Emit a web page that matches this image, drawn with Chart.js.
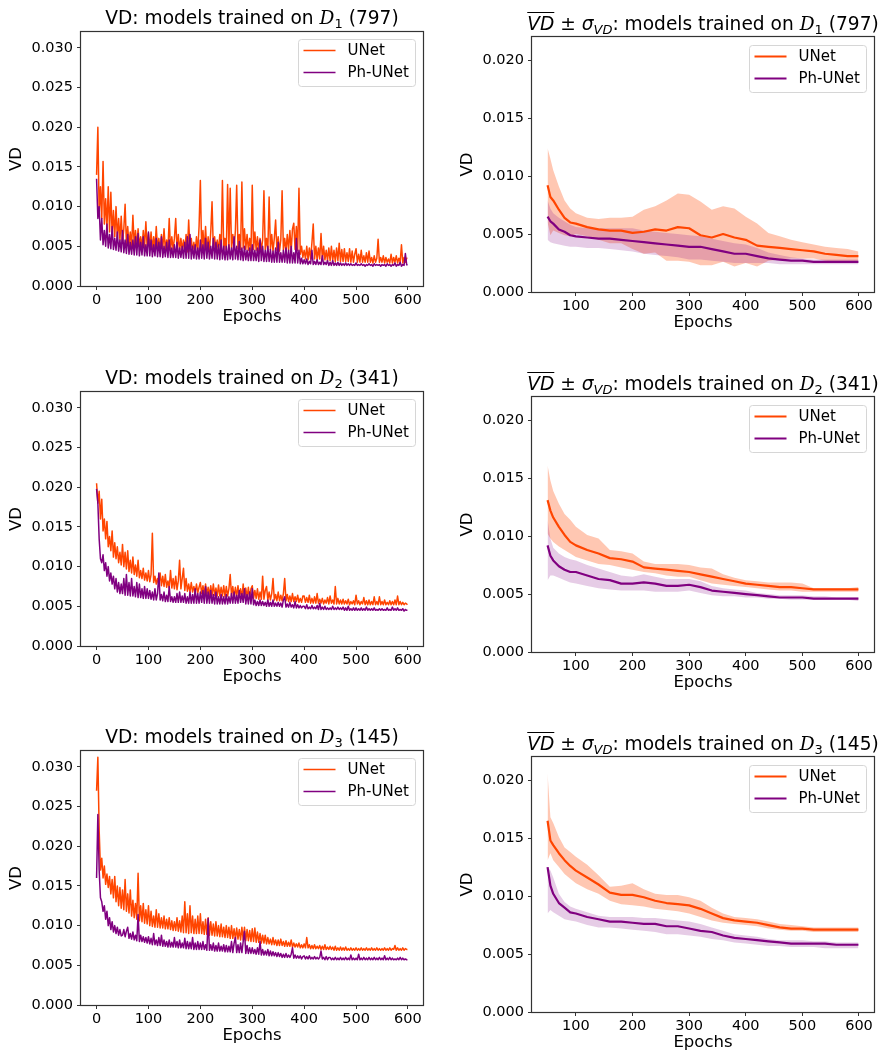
<!DOCTYPE html>
<html>
<head>
<meta charset="utf-8">
<script src="https://cdn.jsdelivr.net/npm/chart.js@4.4.0/dist/chart.umd.min.js"></script>
<style>
  body { margin: 0; background: #fff; width: 883px; height: 1052px; position: relative; overflow: hidden; font-family: "DejaVu Sans", sans-serif; }
  canvas { position: absolute; }
  .title { position: absolute; font-size: 18.6px; line-height: 18.6px; white-space: nowrap; transform: translateX(-50%); color: #000; }
  .cal { font-family: "DejaVu Serif", serif; font-style: italic; }
  .sub { font-size: 0.7em; position: relative; top: 0.3em; }
  .ovl { text-decoration: overline; font-style: italic; }
  .m { font-style: italic; }
</style>
</head>
<body>
<canvas id="l1" width="440" height="340" style="left:0;top:0"></canvas>
<canvas id="r1" width="443" height="345" style="left:440px;top:0"></canvas>
<canvas id="l2" width="440" height="340" style="left:0;top:360px"></canvas>
<canvas id="r2" width="443" height="345" style="left:440px;top:360px"></canvas>
<canvas id="l3" width="440" height="340" style="left:0;top:719px"></canvas>
<canvas id="r3" width="443" height="345" style="left:440px;top:720px"></canvas>
<script>
// ---- data ----
const seriesNames = ["UNet", "Ph-UNet"];
const datasetIds = ["1", "2", "3"];
const datasetSizes = ["797", "341", "145"];

const leftXTicks = [0, 100, 200, 300, 400, 500, 600];
const leftYTicks = [0, 0.005, 0.01, 0.015, 0.02, 0.025, 0.03];
const rightXTicks = [100, 200, 300, 400, 500, 600];
const rightYTicks = [0, 0.005, 0.01, 0.015, 0.02];

// per-epoch VD (left column)
const leftEpochs = [
  0, 2.5, 5, 7.5, 10, 12.5, 15, 17.5, 20, 22.5, 25, 27.5, 30, 32.5, 35, 37.5, 40, 42.5, 45, 47.5,
  50, 52.5, 55, 57.5, 60, 62.5, 65, 67.5, 70, 72.5, 75, 77.5, 80, 82.5, 85, 87.5, 90, 92.5, 95, 97.5,
  100, 102.5, 105, 107.5, 110, 112.5, 115, 117.5, 120, 122.5, 125, 127.5, 130, 132.5, 135, 137.5, 140, 142.5, 145, 147.5,
  150, 152.5, 155, 157.5, 160, 162.5, 165, 167.5, 170, 172.5, 175, 177.5, 180, 182.5, 185, 187.5, 190, 192.5, 195, 197.5,
  200, 202.5, 205, 207.5, 210, 212.5, 215, 217.5, 220, 222.5, 225, 227.5, 230, 232.5, 235, 237.5, 240, 242.5, 245, 247.5,
  250, 252.5, 255, 257.5, 260, 262.5, 265, 267.5, 270, 272.5, 275, 277.5, 280, 282.5, 285, 287.5, 290, 292.5, 295, 297.5,
  300, 302.5, 305, 307.5, 310, 312.5, 315, 317.5, 320, 322.5, 325, 327.5, 330, 332.5, 335, 337.5, 340, 342.5, 345, 347.5,
  350, 352.5, 355, 357.5, 360, 362.5, 365, 367.5, 370, 372.5, 375, 377.5, 380, 382.5, 385, 387.5, 390, 392.5, 395, 397.5,
  400, 402.5, 405, 407.5, 410, 412.5, 415, 417.5, 420, 422.5, 425, 427.5, 430, 432.5, 435, 437.5, 440, 442.5, 445, 447.5,
  450, 452.5, 455, 457.5, 460, 462.5, 465, 467.5, 470, 472.5, 475, 477.5, 480, 482.5, 485, 487.5, 490, 492.5, 495, 497.5,
  500, 502.5, 505, 507.5, 510, 512.5, 515, 517.5, 520, 522.5, 525, 527.5, 530, 532.5, 535, 537.5, 540, 542.5, 545, 547.5,
  550, 552.5, 555, 557.5, 560, 562.5, 565, 567.5, 570, 572.5, 575, 577.5, 580, 582.5, 585, 587.5, 590, 592.5, 595, 597.5,
  599
];

const d1Unet = [
  0.0140, 0.0200, 0.0090, 0.0125, 0.0085, 0.0157, 0.0078, 0.0110, 0.0072, 0.0125, 0.0068, 0.0118, 0.0065, 0.0095, 0.0062, 0.0100, 0.0060, 0.0085, 0.0058, 0.0088,
  0.0055, 0.0072, 0.0103, 0.0053, 0.0075, 0.0052, 0.0068, 0.0050, 0.0089, 0.0051, 0.0070, 0.0049, 0.0072, 0.0050, 0.0062, 0.0048, 0.0070, 0.0049, 0.0081, 0.0048,
  0.0066, 0.0047, 0.0068, 0.0046, 0.0062, 0.0047, 0.0075, 0.0046, 0.0060, 0.0045, 0.0065, 0.0046, 0.0072, 0.0045, 0.0058, 0.0046, 0.0085, 0.0045, 0.0062, 0.0046,
  0.0060, 0.0085, 0.0045, 0.0065, 0.0044, 0.0060, 0.0045, 0.0058, 0.0044, 0.0065, 0.0043, 0.0083, 0.0044, 0.0060, 0.0043, 0.0055, 0.0042, 0.0062, 0.0043, 0.0075,
  0.0133, 0.0045, 0.0070, 0.0044, 0.0075, 0.0043, 0.0062, 0.0044, 0.0068, 0.0106, 0.0045, 0.0062, 0.0043, 0.0058, 0.0044, 0.0065, 0.0043, 0.0133, 0.0045, 0.0060,
  0.0045, 0.0128, 0.0046, 0.0123, 0.0048, 0.0065, 0.0046, 0.0070, 0.0127, 0.0047, 0.0065, 0.0046, 0.0131, 0.0048, 0.0072, 0.0046, 0.0065, 0.0045, 0.0060, 0.0044,
  0.0127, 0.0046, 0.0068, 0.0045, 0.0062, 0.0044, 0.0060, 0.0045, 0.0058, 0.0120, 0.0046, 0.0060, 0.0045, 0.0112, 0.0046, 0.0065, 0.0044, 0.0060, 0.0083, 0.0045,
  0.0062, 0.0044, 0.0058, 0.0120, 0.0045, 0.0060, 0.0044, 0.0065, 0.0045, 0.0070, 0.0044, 0.0072, 0.0079, 0.0046, 0.0075, 0.0045, 0.0123, 0.0040, 0.0050, 0.0036,
  0.0045, 0.0034, 0.0050, 0.0033, 0.0048, 0.0034, 0.0055, 0.0078, 0.0034, 0.0050, 0.0033, 0.0048, 0.0034, 0.0066, 0.0033, 0.0050, 0.0033, 0.0045, 0.0032, 0.0048,
  0.0032, 0.0050, 0.0032, 0.0045, 0.0031, 0.0048, 0.0032, 0.0054, 0.0031, 0.0046, 0.0031, 0.0047, 0.0031, 0.0042, 0.0031, 0.0047, 0.0030, 0.0044, 0.0030, 0.0040,
  0.0047, 0.0030, 0.0040, 0.0030, 0.0045, 0.0030, 0.0038, 0.0030, 0.0042, 0.0030, 0.0044, 0.0030, 0.0036, 0.0029, 0.0038, 0.0030, 0.0035, 0.0059, 0.0030, 0.0036,
  0.0030, 0.0038, 0.0029, 0.0036, 0.0030, 0.0034, 0.0029, 0.0040, 0.0029, 0.0036, 0.0030, 0.0038, 0.0029, 0.0035, 0.0030, 0.0052, 0.0029, 0.0036, 0.0030, 0.0035,
  0.0035
];
const d1PhUnet = [
  0.0135, 0.0085, 0.0100, 0.0058, 0.0085, 0.0052, 0.0070, 0.0050, 0.0078, 0.0048, 0.0065, 0.0047, 0.0075, 0.0046, 0.0060, 0.0045, 0.0068, 0.0044, 0.0058, 0.0043,
  0.0070, 0.0042, 0.0058, 0.0041, 0.0065, 0.0040, 0.0055, 0.0040, 0.0058, 0.0039, 0.0062, 0.0039, 0.0066, 0.0038, 0.0055, 0.0039, 0.0062, 0.0038, 0.0052, 0.0038,
  0.0068, 0.0038, 0.0058, 0.0037, 0.0052, 0.0038, 0.0060, 0.0037, 0.0055, 0.0037, 0.0062, 0.0036, 0.0050, 0.0037, 0.0055, 0.0036, 0.0058, 0.0036, 0.0048, 0.0036,
  0.0052, 0.0036, 0.0055, 0.0035, 0.0048, 0.0036, 0.0050, 0.0035, 0.0055, 0.0035, 0.0062, 0.0035, 0.0065, 0.0034, 0.0050, 0.0035, 0.0052, 0.0034, 0.0048, 0.0034,
  0.0058, 0.0035, 0.0052, 0.0034, 0.0060, 0.0035, 0.0055, 0.0034, 0.0050, 0.0035, 0.0060, 0.0034, 0.0055, 0.0034, 0.0052, 0.0033, 0.0058, 0.0034, 0.0050, 0.0033,
  0.0050, 0.0033, 0.0052, 0.0034, 0.0048, 0.0033, 0.0062, 0.0034, 0.0050, 0.0033, 0.0056, 0.0033, 0.0048, 0.0032, 0.0050, 0.0033, 0.0045, 0.0032, 0.0048, 0.0032,
  0.0052, 0.0032, 0.0045, 0.0032, 0.0048, 0.0031, 0.0058, 0.0032, 0.0050, 0.0031, 0.0045, 0.0031, 0.0050, 0.0031, 0.0046, 0.0030, 0.0044, 0.0030, 0.0048, 0.0030,
  0.0055, 0.0030, 0.0042, 0.0030, 0.0045, 0.0030, 0.0048, 0.0029, 0.0045, 0.0029, 0.0050, 0.0029, 0.0042, 0.0029, 0.0060, 0.0029, 0.0045, 0.0028, 0.0035, 0.0028,
  0.0033, 0.0028, 0.0034, 0.0027, 0.0031, 0.0028, 0.0045, 0.0027, 0.0031, 0.0027, 0.0033, 0.0027, 0.0030, 0.0027, 0.0038, 0.0027, 0.0030, 0.0027, 0.0032, 0.0026,
  0.0030, 0.0026, 0.0032, 0.0026, 0.0029, 0.0026, 0.0030, 0.0026, 0.0029, 0.0026, 0.0028, 0.0026, 0.0029, 0.0026, 0.0028, 0.0026, 0.0028, 0.0026, 0.0027, 0.0026,
  0.0029, 0.0026, 0.0027, 0.0026, 0.0028, 0.0026, 0.0027, 0.0025, 0.0027, 0.0026, 0.0028, 0.0026, 0.0027, 0.0025, 0.0028, 0.0026, 0.0027, 0.0026, 0.0027, 0.0025,
  0.0027, 0.0026, 0.0027, 0.0025, 0.0028, 0.0026, 0.0027, 0.0025, 0.0027, 0.0026, 0.0029, 0.0025, 0.0027, 0.0026, 0.0030, 0.0025, 0.0027, 0.0026, 0.0041, 0.0027,
  0.0026
];

const d2Unet = [
  0.0205, 0.0180, 0.0195, 0.0160, 0.0185, 0.0145, 0.0160, 0.0135, 0.0157, 0.0125, 0.0138, 0.0120, 0.0145, 0.0112, 0.0130, 0.0110, 0.0125, 0.0105, 0.0118, 0.0102,
  0.0128, 0.0100, 0.0118, 0.0097, 0.0120, 0.0094, 0.0108, 0.0092, 0.0112, 0.0090, 0.0102, 0.0088, 0.0108, 0.0086, 0.0095, 0.0085, 0.0098, 0.0083, 0.0092, 0.0082,
  0.0095, 0.0081, 0.0090, 0.0142, 0.0080, 0.0088, 0.0078, 0.0085, 0.0077, 0.0092, 0.0076, 0.0088, 0.0075, 0.0090, 0.0074, 0.0082, 0.0073, 0.0095, 0.0073, 0.0085,
  0.0072, 0.0088, 0.0071, 0.0082, 0.0108, 0.0072, 0.0085, 0.0098, 0.0070, 0.0085, 0.0069, 0.0078, 0.0068, 0.0080, 0.0068, 0.0075, 0.0067, 0.0078, 0.0067, 0.0074,
  0.0080, 0.0066, 0.0076, 0.0065, 0.0078, 0.0065, 0.0074, 0.0064, 0.0076, 0.0064, 0.0078, 0.0064, 0.0073, 0.0063, 0.0077, 0.0063, 0.0074, 0.0063, 0.0076, 0.0062,
  0.0075, 0.0063, 0.0072, 0.0090, 0.0063, 0.0075, 0.0062, 0.0074, 0.0062, 0.0076, 0.0062, 0.0072, 0.0061, 0.0078, 0.0061, 0.0073, 0.0061, 0.0074, 0.0060, 0.0072,
  0.0076, 0.0060, 0.0070, 0.0060, 0.0072, 0.0059, 0.0068, 0.0059, 0.0088, 0.0059, 0.0070, 0.0075, 0.0058, 0.0068, 0.0058, 0.0066, 0.0085, 0.0058, 0.0065, 0.0057,
  0.0068, 0.0057, 0.0064, 0.0057, 0.0066, 0.0085, 0.0057, 0.0065, 0.0056, 0.0063, 0.0056, 0.0066, 0.0056, 0.0062, 0.0056, 0.0064, 0.0055, 0.0060, 0.0055, 0.0063,
  0.0063, 0.0055, 0.0061, 0.0055, 0.0064, 0.0054, 0.0060, 0.0054, 0.0062, 0.0054, 0.0066, 0.0054, 0.0059, 0.0054, 0.0060, 0.0053, 0.0058, 0.0054, 0.0061, 0.0053,
  0.0063, 0.0054, 0.0058, 0.0053, 0.0075, 0.0053, 0.0060, 0.0053, 0.0058, 0.0053, 0.0059, 0.0053, 0.0057, 0.0053, 0.0059, 0.0052, 0.0056, 0.0053, 0.0057, 0.0052,
  0.0064, 0.0053, 0.0057, 0.0052, 0.0056, 0.0053, 0.0061, 0.0052, 0.0057, 0.0052, 0.0058, 0.0052, 0.0056, 0.0052, 0.0062, 0.0052, 0.0056, 0.0052, 0.0062, 0.0052,
  0.0056, 0.0052, 0.0058, 0.0052, 0.0055, 0.0052, 0.0057, 0.0052, 0.0056, 0.0052, 0.0058, 0.0052, 0.0063, 0.0052, 0.0056, 0.0052, 0.0055, 0.0052, 0.0054, 0.0053,
  0.0052
];
const d2PhUnet = [
  0.0198, 0.0180, 0.0135, 0.0110, 0.0105, 0.0115, 0.0095, 0.0105, 0.0088, 0.0100, 0.0082, 0.0092, 0.0078, 0.0088, 0.0072, 0.0085, 0.0068, 0.0080, 0.0066, 0.0078,
  0.0066, 0.0085, 0.0064, 0.0090, 0.0064, 0.0080, 0.0063, 0.0085, 0.0063, 0.0075, 0.0062, 0.0080, 0.0061, 0.0078, 0.0061, 0.0072, 0.0060, 0.0075, 0.0060, 0.0072,
  0.0060, 0.0070, 0.0059, 0.0068, 0.0058, 0.0072, 0.0058, 0.0066, 0.0092, 0.0058, 0.0065, 0.0057, 0.0068, 0.0056, 0.0064, 0.0056, 0.0075, 0.0056, 0.0062, 0.0055,
  0.0062, 0.0055, 0.0066, 0.0055, 0.0068, 0.0055, 0.0063, 0.0055, 0.0066, 0.0054, 0.0062, 0.0054, 0.0068, 0.0054, 0.0065, 0.0054, 0.0072, 0.0054, 0.0066, 0.0054,
  0.0068, 0.0055, 0.0070, 0.0054, 0.0075, 0.0054, 0.0068, 0.0054, 0.0070, 0.0054, 0.0065, 0.0053, 0.0068, 0.0053, 0.0062, 0.0053, 0.0065, 0.0053, 0.0062, 0.0053,
  0.0065, 0.0053, 0.0062, 0.0054, 0.0066, 0.0054, 0.0068, 0.0054, 0.0064, 0.0054, 0.0070, 0.0055, 0.0066, 0.0055, 0.0072, 0.0053, 0.0065, 0.0053, 0.0068, 0.0053,
  0.0072, 0.0052, 0.0058, 0.0051, 0.0056, 0.0051, 0.0058, 0.0051, 0.0056, 0.0051, 0.0055, 0.0050, 0.0058, 0.0050, 0.0055, 0.0050, 0.0058, 0.0050, 0.0054, 0.0050,
  0.0055, 0.0050, 0.0054, 0.0049, 0.0058, 0.0062, 0.0049, 0.0053, 0.0049, 0.0055, 0.0049, 0.0052, 0.0048, 0.0056, 0.0048, 0.0052, 0.0048, 0.0051, 0.0048, 0.0050,
  0.0050, 0.0047, 0.0052, 0.0047, 0.0049, 0.0047, 0.0051, 0.0047, 0.0049, 0.0047, 0.0051, 0.0046, 0.0054, 0.0046, 0.0049, 0.0046, 0.0050, 0.0046, 0.0048, 0.0046,
  0.0048, 0.0046, 0.0050, 0.0046, 0.0048, 0.0046, 0.0049, 0.0046, 0.0048, 0.0046, 0.0049, 0.0045, 0.0048, 0.0045, 0.0050, 0.0045, 0.0047, 0.0045, 0.0048, 0.0045,
  0.0048, 0.0045, 0.0047, 0.0045, 0.0048, 0.0045, 0.0047, 0.0045, 0.0049, 0.0045, 0.0047, 0.0045, 0.0047, 0.0045, 0.0048, 0.0045, 0.0046, 0.0045, 0.0047, 0.0045,
  0.0047, 0.0045, 0.0046, 0.0045, 0.0048, 0.0045, 0.0046, 0.0045, 0.0049, 0.0045, 0.0047, 0.0045, 0.0048, 0.0045, 0.0046, 0.0045, 0.0047, 0.0044, 0.0046, 0.0045,
  0.0045
];

const d3Unet = [
  0.0270, 0.0312, 0.0220, 0.0170, 0.0185, 0.0160, 0.0175, 0.0152, 0.0165, 0.0148, 0.0162, 0.0140, 0.0158, 0.0135, 0.0162, 0.0130, 0.0150, 0.0125, 0.0148, 0.0122,
  0.0145, 0.0120, 0.0158, 0.0118, 0.0140, 0.0116, 0.0145, 0.0112, 0.0132, 0.0110, 0.0128, 0.0108, 0.0166, 0.0106, 0.0125, 0.0105, 0.0128, 0.0103, 0.0120, 0.0102,
  0.0125, 0.0100, 0.0118, 0.0099, 0.0112, 0.0098, 0.0120, 0.0098, 0.0115, 0.0097, 0.0110, 0.0097, 0.0112, 0.0096, 0.0108, 0.0096, 0.0110, 0.0095, 0.0106, 0.0094,
  0.0105, 0.0094, 0.0110, 0.0093, 0.0106, 0.0092, 0.0112, 0.0091, 0.0130, 0.0091, 0.0115, 0.0090, 0.0125, 0.0091, 0.0112, 0.0090, 0.0108, 0.0090, 0.0112, 0.0090,
  0.0115, 0.0090, 0.0105, 0.0089, 0.0108, 0.0089, 0.0110, 0.0088, 0.0105, 0.0088, 0.0102, 0.0087, 0.0105, 0.0087, 0.0100, 0.0086, 0.0102, 0.0086, 0.0098, 0.0085,
  0.0100, 0.0085, 0.0098, 0.0084, 0.0100, 0.0084, 0.0096, 0.0083, 0.0097, 0.0083, 0.0095, 0.0082, 0.0098, 0.0082, 0.0098, 0.0081, 0.0095, 0.0081, 0.0094, 0.0080,
  0.0096, 0.0080, 0.0097, 0.0079, 0.0092, 0.0079, 0.0090, 0.0078, 0.0088, 0.0078, 0.0088, 0.0077, 0.0085, 0.0077, 0.0083, 0.0076, 0.0085, 0.0076, 0.0082, 0.0075,
  0.0082, 0.0075, 0.0083, 0.0075, 0.0080, 0.0074, 0.0081, 0.0074, 0.0079, 0.0074, 0.0082, 0.0073, 0.0078, 0.0073, 0.0077, 0.0073, 0.0078, 0.0072, 0.0076, 0.0072,
  0.0077, 0.0072, 0.0085, 0.0072, 0.0076, 0.0071, 0.0075, 0.0071, 0.0076, 0.0071, 0.0074, 0.0071, 0.0075, 0.0070, 0.0074, 0.0070, 0.0076, 0.0070, 0.0073, 0.0070,
  0.0074, 0.0070, 0.0073, 0.0069, 0.0074, 0.0069, 0.0072, 0.0069, 0.0073, 0.0069, 0.0072, 0.0069, 0.0073, 0.0069, 0.0071, 0.0069, 0.0072, 0.0069, 0.0071, 0.0069,
  0.0072, 0.0069, 0.0071, 0.0069, 0.0072, 0.0069, 0.0071, 0.0069, 0.0072, 0.0069, 0.0071, 0.0069, 0.0072, 0.0069, 0.0071, 0.0069, 0.0072, 0.0069, 0.0071, 0.0069,
  0.0071, 0.0069, 0.0072, 0.0069, 0.0071, 0.0069, 0.0072, 0.0069, 0.0071, 0.0070, 0.0075, 0.0069, 0.0072, 0.0069, 0.0071, 0.0069, 0.0072, 0.0069, 0.0071, 0.0070,
  0.0070
];
const d3PhUnet = [
  0.0160, 0.0240, 0.0170, 0.0135, 0.0130, 0.0118, 0.0125, 0.0108, 0.0118, 0.0100, 0.0110, 0.0095, 0.0105, 0.0092, 0.0100, 0.0090, 0.0098, 0.0088, 0.0095, 0.0087,
  0.0088, 0.0095, 0.0086, 0.0093, 0.0098, 0.0084, 0.0090, 0.0083, 0.0092, 0.0082, 0.0088, 0.0081, 0.0114, 0.0080, 0.0088, 0.0080, 0.0086, 0.0079, 0.0085, 0.0078,
  0.0086, 0.0077, 0.0084, 0.0076, 0.0090, 0.0076, 0.0082, 0.0075, 0.0085, 0.0075, 0.0088, 0.0074, 0.0082, 0.0074, 0.0080, 0.0073, 0.0082, 0.0073, 0.0079, 0.0073,
  0.0085, 0.0073, 0.0080, 0.0072, 0.0082, 0.0072, 0.0078, 0.0072, 0.0084, 0.0071, 0.0080, 0.0071, 0.0079, 0.0071, 0.0085, 0.0070, 0.0078, 0.0070, 0.0080, 0.0070,
  0.0078, 0.0070, 0.0080, 0.0070, 0.0076, 0.0069, 0.0109, 0.0069, 0.0076, 0.0069, 0.0078, 0.0068, 0.0075, 0.0068, 0.0078, 0.0068, 0.0074, 0.0068, 0.0076, 0.0067,
  0.0075, 0.0067, 0.0074, 0.0067, 0.0080, 0.0066, 0.0078, 0.0085, 0.0066, 0.0076, 0.0066, 0.0078, 0.0066, 0.0080, 0.0093, 0.0065, 0.0075, 0.0065, 0.0072, 0.0065,
  0.0072, 0.0065, 0.0070, 0.0064, 0.0072, 0.0064, 0.0080, 0.0063, 0.0070, 0.0063, 0.0068, 0.0063, 0.0070, 0.0062, 0.0068, 0.0062, 0.0067, 0.0062, 0.0066, 0.0061,
  0.0066, 0.0061, 0.0065, 0.0060, 0.0064, 0.0060, 0.0065, 0.0060, 0.0063, 0.0060, 0.0064, 0.0072, 0.0059, 0.0063, 0.0059, 0.0062, 0.0059, 0.0062, 0.0058, 0.0061,
  0.0062, 0.0058, 0.0061, 0.0058, 0.0062, 0.0058, 0.0060, 0.0058, 0.0061, 0.0058, 0.0060, 0.0058, 0.0060, 0.0068, 0.0058, 0.0060, 0.0057, 0.0061, 0.0057, 0.0060,
  0.0060, 0.0057, 0.0059, 0.0057, 0.0060, 0.0057, 0.0059, 0.0057, 0.0060, 0.0057, 0.0059, 0.0057, 0.0060, 0.0057, 0.0059, 0.0057, 0.0063, 0.0057, 0.0059, 0.0057,
  0.0059, 0.0057, 0.0064, 0.0057, 0.0059, 0.0057, 0.0060, 0.0057, 0.0059, 0.0057, 0.0060, 0.0057, 0.0059, 0.0057, 0.0060, 0.0057, 0.0059, 0.0057, 0.0060, 0.0057,
  0.0059, 0.0057, 0.0062, 0.0057, 0.0059, 0.0057, 0.0060, 0.0057, 0.0059, 0.0057, 0.0058, 0.0057, 0.0059, 0.0057, 0.0060, 0.0057, 0.0059, 0.0057, 0.0058, 0.0057,
  0.0057
];

// running mean and mean +/- sigma (right column)
const rightEpochs = [50, 55, 60, 70, 80, 90, 100, 120, 140, 160, 180, 200, 220, 240, 260, 280,
  300, 320, 340, 360, 380, 400, 420, 440, 460, 480, 500, 520, 540, 560, 580, 599];

const d1UnetMean = [0.0092, 0.0082, 0.0079, 0.0071, 0.0064, 0.0060, 0.0059, 0.0056, 0.0054, 0.0053, 0.0053, 0.0051, 0.0052, 0.0054, 0.0053, 0.0056,
  0.0055, 0.0049, 0.0047, 0.0050, 0.0047, 0.0045, 0.0040, 0.0039, 0.0038, 0.0037, 0.0036, 0.0035, 0.0033, 0.0032, 0.0031, 0.0031];
const d1UnetUpper = [0.0124, 0.0115, 0.0105, 0.0091, 0.0079, 0.0072, 0.0068, 0.0064, 0.0063, 0.0064, 0.0064, 0.0065, 0.0071, 0.0074, 0.0079, 0.0085,
  0.0084, 0.0078, 0.0071, 0.0074, 0.0072, 0.0065, 0.0059, 0.0051, 0.0048, 0.0045, 0.0043, 0.0041, 0.0039, 0.0038, 0.0037, 0.0035];
const d1UnetLower = [0.0060, 0.0049, 0.0053, 0.0051, 0.0049, 0.0048, 0.0050, 0.0048, 0.0045, 0.0042, 0.0042, 0.0037, 0.0033, 0.0034, 0.0027, 0.0027,
  0.0026, 0.0023, 0.0023, 0.0026, 0.0022, 0.0025, 0.0022, 0.0027, 0.0028, 0.0029, 0.0029, 0.0029, 0.0027, 0.0026, 0.0025, 0.0027];
const d1PhMean = [0.0065, 0.0061, 0.0059, 0.0054, 0.0052, 0.0049, 0.0048, 0.0047, 0.0046, 0.0046, 0.0045, 0.0044, 0.0043, 0.0042, 0.0041, 0.0040,
  0.0039, 0.0039, 0.0037, 0.0035, 0.0033, 0.0033, 0.0031, 0.0029, 0.0028, 0.0027, 0.0027, 0.0026, 0.0026, 0.0026, 0.0026, 0.0026];
const d1PhUpper = [0.0079, 0.0072, 0.0068, 0.0064, 0.0061, 0.0058, 0.0056, 0.0055, 0.0055, 0.0055, 0.0055, 0.0055, 0.0053, 0.0052, 0.0051, 0.0050,
  0.0049, 0.0048, 0.0046, 0.0044, 0.0042, 0.0041, 0.0038, 0.0034, 0.0032, 0.0030, 0.0029, 0.0028, 0.0028, 0.0028, 0.0028, 0.0028];
const d1PhLower = [0.0045, 0.0043, 0.0042, 0.0041, 0.0040, 0.0039, 0.0039, 0.0038, 0.0038, 0.0037, 0.0036, 0.0035, 0.0033, 0.0032, 0.0031, 0.0030,
  0.0028, 0.0028, 0.0027, 0.0026, 0.0025, 0.0025, 0.0025, 0.0025, 0.0024, 0.0024, 0.0024, 0.0024, 0.0024, 0.0024, 0.0024, 0.0024];

const d2UnetMean = [0.0131, 0.0122, 0.0116, 0.0108, 0.0101, 0.0095, 0.0092, 0.0088, 0.0085, 0.0081, 0.0080, 0.0078, 0.0073, 0.0072, 0.0071, 0.0070,
  0.0069, 0.0067, 0.0065, 0.0063, 0.0061, 0.0059, 0.0058, 0.0057, 0.0056, 0.0056, 0.0055, 0.0054, 0.0054, 0.0054, 0.0054, 0.0054];
const d2UnetUpper = [0.0161, 0.0148, 0.0139, 0.0128, 0.0119, 0.0114, 0.0108, 0.0101, 0.0098, 0.0088, 0.0087, 0.0085, 0.0078, 0.0076, 0.0076, 0.0076,
  0.0075, 0.0073, 0.0072, 0.0067, 0.0064, 0.0062, 0.0061, 0.0060, 0.0060, 0.0060, 0.0059, 0.0055, 0.0055, 0.0055, 0.0055, 0.0056];
const d2UnetLower = [0.0102, 0.0098, 0.0095, 0.0091, 0.0088, 0.0085, 0.0082, 0.0079, 0.0076, 0.0075, 0.0073, 0.0071, 0.0069, 0.0068, 0.0066, 0.0065,
  0.0065, 0.0062, 0.0059, 0.0058, 0.0057, 0.0056, 0.0055, 0.0054, 0.0053, 0.0053, 0.0052, 0.0052, 0.0052, 0.0052, 0.0052, 0.0052];
const d2PhMean = [0.0092, 0.0083, 0.0079, 0.0074, 0.0071, 0.0069, 0.0069, 0.0066, 0.0063, 0.0062, 0.0059, 0.0059, 0.0060, 0.0059, 0.0057, 0.0057,
  0.0058, 0.0056, 0.0053, 0.0052, 0.0051, 0.0050, 0.0049, 0.0048, 0.0047, 0.0047, 0.0047, 0.0046, 0.0046, 0.0046, 0.0046, 0.0046];
const d2PhUpper = [0.0114, 0.0098, 0.0090, 0.0085, 0.0082, 0.0080, 0.0079, 0.0075, 0.0072, 0.0069, 0.0066, 0.0065, 0.0067, 0.0065, 0.0063, 0.0063,
  0.0063, 0.0061, 0.0057, 0.0055, 0.0054, 0.0053, 0.0051, 0.0050, 0.0049, 0.0049, 0.0049, 0.0048, 0.0048, 0.0047, 0.0047, 0.0047];
const d2PhLower = [0.0062, 0.0066, 0.0066, 0.0064, 0.0062, 0.0060, 0.0059, 0.0057, 0.0055, 0.0054, 0.0053, 0.0053, 0.0053, 0.0052, 0.0052, 0.0052,
  0.0053, 0.0051, 0.0049, 0.0048, 0.0048, 0.0047, 0.0047, 0.0046, 0.0046, 0.0045, 0.0045, 0.0045, 0.0045, 0.0045, 0.0045, 0.0044];

const d3UnetMean = [0.0165, 0.0148, 0.0144, 0.0137, 0.0131, 0.0126, 0.0122, 0.0116, 0.0110, 0.0103, 0.0101, 0.0101, 0.0099, 0.0096, 0.0094, 0.0093,
  0.0092, 0.0089, 0.0085, 0.0081, 0.0079, 0.0078, 0.0077, 0.0075, 0.0073, 0.0072, 0.0072, 0.0071, 0.0071, 0.0071, 0.0071, 0.0071];
const d3UnetUpper = [0.0206, 0.0168, 0.0163, 0.0151, 0.0142, 0.0138, 0.0134, 0.0127, 0.0118, 0.0108, 0.0109, 0.0111, 0.0106, 0.0102, 0.0101, 0.0101,
  0.0099, 0.0096, 0.0090, 0.0085, 0.0082, 0.0081, 0.0080, 0.0078, 0.0076, 0.0075, 0.0074, 0.0073, 0.0073, 0.0073, 0.0073, 0.0073];
const d3UnetLower = [0.0131, 0.0137, 0.0131, 0.0125, 0.0119, 0.0115, 0.0111, 0.0106, 0.0102, 0.0096, 0.0093, 0.0092, 0.0091, 0.0089, 0.0088, 0.0087,
  0.0085, 0.0082, 0.0079, 0.0077, 0.0076, 0.0075, 0.0074, 0.0072, 0.0071, 0.0070, 0.0070, 0.0069, 0.0069, 0.0069, 0.0069, 0.0069];
const d3PhMean = [0.0125, 0.0109, 0.0102, 0.0094, 0.0090, 0.0086, 0.0085, 0.0082, 0.0080, 0.0078, 0.0078, 0.0077, 0.0076, 0.0076, 0.0074, 0.0074,
  0.0072, 0.0070, 0.0069, 0.0066, 0.0064, 0.0063, 0.0062, 0.0061, 0.0060, 0.0059, 0.0059, 0.0059, 0.0059, 0.0058, 0.0058, 0.0058];
const d3PhUpper = [0.0125, 0.0122, 0.0116, 0.0102, 0.0095, 0.0091, 0.0089, 0.0086, 0.0083, 0.0082, 0.0082, 0.0082, 0.0081, 0.0081, 0.0080, 0.0079,
  0.0078, 0.0076, 0.0073, 0.0070, 0.0067, 0.0066, 0.0065, 0.0063, 0.0062, 0.0062, 0.0062, 0.0061, 0.0061, 0.0060, 0.0060, 0.0060];
const d3PhLower = [0.0085, 0.0088, 0.0086, 0.0083, 0.0080, 0.0079, 0.0078, 0.0075, 0.0073, 0.0073, 0.0072, 0.0071, 0.0070, 0.0069, 0.0067, 0.0067,
  0.0066, 0.0065, 0.0063, 0.0062, 0.0060, 0.0059, 0.0058, 0.0057, 0.0057, 0.0056, 0.0056, 0.0056, 0.0055, 0.0055, 0.0055, 0.0055];

// ---- styling ----
const ORANGE = "#ff4500";
const PURPLE = "#800080";
const ORANGE_BAND = "rgba(255, 69, 0, 0.3)";
const PURPLE_BAND = "rgba(128, 0, 128, 0.2)";
const AXIS = "#333";

Chart.defaults.font.family = '"DejaVu Sans", sans-serif';
Chart.defaults.color = "#000";

const pts = (xs, ys) => xs.map((x, i) => ({ x: x, y: ys[i] }));

// box around the plot area
const frame = {
  id: "frame",
  afterDatasetsDraw(chart) {
    const { ctx, chartArea: a } = chart;
    ctx.save();
    ctx.strokeStyle = AXIS;
    ctx.lineWidth = 1.2;
    ctx.strokeRect(Math.round(a.left) - 0.5, Math.round(a.top) - 0.5, Math.round(a.width) + 1, Math.round(a.height) + 1);
    ctx.restore();
  }
};

// matplotlib-like legend in the upper right corner
const legendBox = {
  id: "legendBox",
  afterDraw(chart, args, opts) {
    const { ctx, chartArea } = chart;
    const w = 117, h = 47, r = 3;
    const x = Math.round(chartArea.right - 8 - w) + 0.5;
    const y = Math.round(chartArea.top + opts.top) + 0.5;
    ctx.save();
    ctx.beginPath();
    ctx.moveTo(x + r, y);
    ctx.lineTo(x + w - r, y);
    ctx.quadraticCurveTo(x + w, y, x + w, y + r);
    ctx.lineTo(x + w, y + h - r);
    ctx.quadraticCurveTo(x + w, y + h, x + w - r, y + h);
    ctx.lineTo(x + r, y + h);
    ctx.quadraticCurveTo(x, y + h, x, y + h - r);
    ctx.lineTo(x, y + r);
    ctx.quadraticCurveTo(x, y, x + r, y);
    ctx.closePath();
    ctx.fillStyle = "rgba(255,255,255,0.8)";
    ctx.fill();
    ctx.strokeStyle = "#d6d6d6";
    ctx.lineWidth = 1;
    ctx.stroke();
    ctx.font = '15px "DejaVu Sans"';
    ctx.textBaseline = "middle";
    opts.colors.forEach((c, i) => {
      const yy = y + 11 + i * 22;
      ctx.strokeStyle = c;
      ctx.lineWidth = opts.lineWidth;
      ctx.beginPath();
      ctx.moveTo(x + 5, yy);
      ctx.lineTo(x + 37, yy);
      ctx.stroke();
      ctx.fillStyle = "#000";
      ctx.fillText(seriesNames[i], x + 49, yy + 1);
    });
    ctx.restore();
  }
};

function xScale(min, max, ticks) {
  return {
    type: "linear",
    min: min,
    max: max,
    afterBuildTicks: (s) => { s.ticks = ticks.map((v) => ({ value: v })); },
    afterFit: (s) => { s.height = 45; },
    ticks: { font: { size: 14.5 }, color: "#000", padding: 2, maxRotation: 0, autoSkip: false },
    grid: { drawOnChartArea: false, drawTicks: true, tickLength: 4, tickColor: AXIS },
    border: { display: false },
    title: { display: true, text: "Epochs", font: { size: 16.5 }, color: "#000", padding: { top: 0, bottom: 4 } }
  };
}

function yScale(max, ticks, width, titlePad) {
  return {
    type: "linear",
    min: 0,
    max: max,
    afterBuildTicks: (s) => { s.ticks = ticks.map((v) => ({ value: v })); },
    afterFit: (s) => { s.width = width; },
    ticks: { font: { size: 14.5 }, color: "#000", padding: 4, callback: (v) => v.toFixed(3) },
    grid: { drawOnChartArea: false, drawTicks: true, tickLength: 4, tickColor: AXIS },
    border: { display: false },
    title: { display: true, text: "VD", font: { size: 16.5 }, color: "#000", padding: { top: titlePad, bottom: 0 } }
  };
}

function line(label, data, color, width, order) {
  return {
    label: label, data: data, borderColor: color, backgroundColor: color,
    borderWidth: width, pointRadius: 0, tension: 0, fill: false,
    borderJoinStyle: "round", order: order
  };
}

function band(data, color, fill, order) {
  return {
    data: data, borderColor: "rgba(0,0,0,0)", backgroundColor: color,
    borderWidth: 0, pointRadius: 0, tension: 0, fill: fill, order: order
  };
}

function makeLeft(id, unet, phunet) {
  new Chart(document.getElementById(id), {
    type: "line",
    data: {
      datasets: [
        line(seriesNames[0], pts(leftEpochs, unet), ORANGE, 1.5, 2),
        line(seriesNames[1], pts(leftEpochs, phunet), PURPLE, 1.5, 1)
      ]
    },
    options: {
      responsive: false,
      animation: false,
      devicePixelRatio: 1,
      layout: { padding: { top: 32, right: 17, bottom: 9, left: 0 } },
      plugins: {
        legend: { display: false },
        tooltip: { enabled: false },
        legendBox: { colors: [ORANGE, PURPLE], lineWidth: 1.5, top: 7 }
      },
      scales: {
        x: xScale(-30, 629, leftXTicks),
        y: yScale(0.032, leftYTicks, 81, 7)
      }
    },
    plugins: [frame, legendBox]
  });
}

function makeRight(id, um, uu, ul, pm, pu, pl) {
  new Chart(document.getElementById(id), {
    type: "line",
    data: {
      datasets: [
        band(pts(rightEpochs, ul), ORANGE_BAND, false, 4),
        band(pts(rightEpochs, uu), ORANGE_BAND, "-1", 4),
        band(pts(rightEpochs, pl), PURPLE_BAND, false, 3),
        band(pts(rightEpochs, pu), PURPLE_BAND, "-1", 3),
        line(seriesNames[0], pts(rightEpochs, um), ORANGE, 2.2, 2),
        line(seriesNames[1], pts(rightEpochs, pm), PURPLE, 2.2, 1)
      ]
    },
    options: {
      responsive: false,
      animation: false,
      devicePixelRatio: 1,
      layout: { padding: { top: 37, right: 9, bottom: 8, left: 0 } },
      plugins: {
        legend: { display: false },
        tooltip: { enabled: false },
        legendBox: { colors: [ORANGE, PURPLE], lineWidth: 2.2, top: 8 }
      },
      scales: {
        x: xScale(22.5, 626.5, rightXTicks),
        y: yScale(0.022, rightYTicks, 92, 18)
      }
    },
    plugins: [frame, legendBox]
  });
}

makeLeft("l1", d1Unet, d1PhUnet);
makeLeft("l2", d2Unet, d2PhUnet);
makeLeft("l3", d3Unet, d3PhUnet);
makeRight("r1", d1UnetMean, d1UnetUpper, d1UnetLower, d1PhMean, d1PhUpper, d1PhLower);
makeRight("r2", d2UnetMean, d2UnetUpper, d2UnetLower, d2PhMean, d2PhUpper, d2PhLower);
makeRight("r3", d3UnetMean, d3UnetUpper, d3UnetLower, d3PhMean, d3PhUpper, d3PhLower);

// ---- panel titles ----
const leftTops = [0, 360, 719];
const rightTops = [0, 360, 720];
datasetIds.forEach((d, i) => {
  const setName = '<span class="cal">D</span><span class="sub">' + d + '</span> (' + datasetSizes[i] + ')';
  const lt = document.createElement("div");
  lt.className = "title";
  lt.style.left = "252px";
  lt.style.top = (leftTops[i] + 9) + "px";
  lt.innerHTML = "VD: models trained on " + setName;
  document.body.appendChild(lt);

  const rt = document.createElement("div");
  rt.className = "title";
  rt.style.left = "703px";
  rt.style.top = (rightTops[i] + 15) + "px";
  rt.innerHTML = '<span class="ovl">VD</span> ± <span class="m">σ</span><span class="sub m">VD</span>: models trained on ' + setName;
  document.body.appendChild(rt);
});
</script>
</body>
</html>
